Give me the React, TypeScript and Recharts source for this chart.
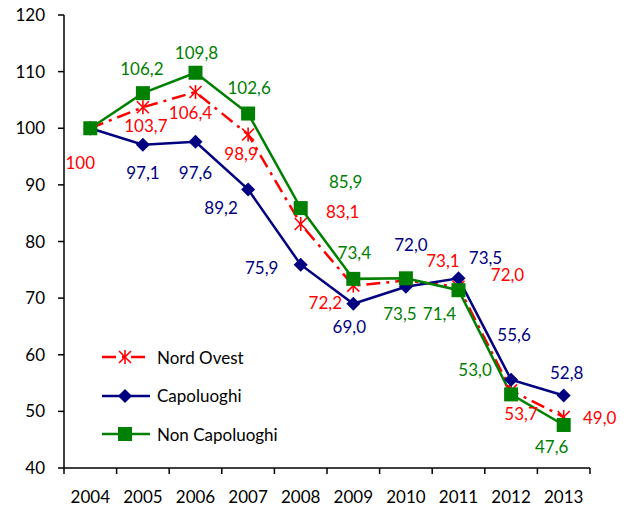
import React from "react";
import { LineChart, Line, XAxis, YAxis, Legend, LabelList } from "recharts";

const years = ["2004", "2005", "2006", "2007", "2008", "2009", "2010", "2011", "2012", "2013"];
const nordOvest = [100, 103.7, 106.4, 98.9, 83.1, 72.2, 73.1, 72.0, 53.7, 49.0];
const capoluoghi = [100, 97.1, 97.6, 89.2, 75.9, 69.0, 72.0, 73.5, 55.6, 52.8];
const nonCapoluoghi = [100, 106.2, 109.8, 102.6, 85.9, 73.4, 73.5, 71.4, 53.0, 47.6];
const yTicks = [40, 50, 60, 70, 80, 90, 100, 110, 120];

// label offsets from each point (dx, dy), null = no label
const nordOvestLabelPos: ([number, number] | null)[] = [
  [-10, 34], [3, 18], [-5, 20], [-7, 19], [42, -12], [-28, 17], [37, -20], [49, -12], [10, 23], [36, 0],
];
const capoluoghiLabelPos: ([number, number] | null)[] = [
  null, [0, 28], [0, 31], [-27, 18], [-39, 3], [-4, 23], [5, -42], [27, -21], [3, -45], [3, -23],
];
const nonCapoluoghiLabelPos: ([number, number] | null)[] = [
  null, [-1, -25], [1, -20], [1, -26], [45, -27], [1, -26], [-6, 35], [-19, 23], [-36, -25], [-12, 22],
];

const data = years.map((year, i) => ({
  year,
  nordOvest: nordOvest[i],
  capoluoghi: capoluoghi[i],
  nonCapoluoghi: nonCapoluoghi[i],
}));

const W = 629;
const H = 511;
const MARGIN = { top: 15, right: 39, bottom: 0, left: 0 };
const Y_W = 64;
const X_H = 43;
const HALF_BAND = (W - MARGIN.right - Y_W) / years.length / 2;

const RED = "#ff0000";
const NAVY = "#000080";
const GREEN = "#008000";
const RED_DASH = "14 6 3 6";

const fmt = (v: number, i: number) => (i === 0 ? String(v) : v.toFixed(1).replace(".", ","));

const makeLabel = (pos: ([number, number] | null)[], color: string) => (props: any) => {
  const { x, y, value, index } = props;
  const p = pos[index];
  if (!p) return null;
  return (
    <text
      x={x + p[0]}
      y={y + p[1]}
      fill={color}
      fontSize={17}
      textAnchor="middle"
      dominantBaseline="central"
    >
      {fmt(value, index)}
    </text>
  );
};

const Star = ({ cx, cy, r = 6, color }: any) => (
  <g stroke={color} strokeWidth={1.6}>
    <line x1={cx - r} y1={cy - r} x2={cx + r} y2={cy + r} />
    <line x1={cx - r} y1={cy + r} x2={cx + r} y2={cy - r} />
    <line x1={cx} y1={cy - r - 1} x2={cx} y2={cy + r + 1} />
  </g>
);

const Diamond = ({ cx, cy, r = 7, color }: any) => (
  <polygon points={`${cx},${cy - r} ${cx + r},${cy} ${cx},${cy + r} ${cx - r},${cy}`} fill={color} />
);

const Square = ({ cx, cy, r = 7, color }: any) => (
  <rect x={cx - r} y={cy - r} width={2 * r} height={2 * r} fill={color} />
);

const legendItems = [
  { name: "Nord Ovest", color: RED, dash: RED_DASH, Marker: Star },
  { name: "Capoluoghi", color: NAVY, dash: undefined, Marker: Diamond },
  { name: "Non Capoluoghi", color: GREEN, dash: undefined, Marker: Square },
];

const renderLegend = () => (
  <div>
    {legendItems.map(({ name, color, dash, Marker }) => (
      <div key={name} style={{ display: "flex", alignItems: "center", height: 38.5 }}>
        <svg width={52} height={20}>
          <line x1={2} y1={10} x2={50} y2={10} stroke={color} strokeWidth={2.5} strokeDasharray={dash} />
          <Marker cx={25} cy={10} color={color} />
        </svg>
        <span style={{ fontSize: 17, color: "#000", marginLeft: 5 }}>{name}</span>
      </div>
    ))}
  </div>
);

const YearTick = (props: any) => {
  const { x, y, payload, index } = props;
  const last = index === years.length - 1;
  return (
    <g>
      <line x1={x - HALF_BAND} y1={y} x2={x - HALF_BAND} y2={y + 6} stroke="#000" strokeWidth={1.5} />
      {last && <line x1={x + HALF_BAND} y1={y} x2={x + HALF_BAND} y2={y + 6} stroke="#000" strokeWidth={1.5} />}
      <text x={x} y={y + 35} textAnchor="middle" fill="#000" fontSize={17}>
        {payload.value}
      </text>
    </g>
  );
};

export default function App() {
  return (
    <div style={{ position: "absolute", left: 0, top: 0, width: W, height: H, background: "#fff", fontFamily: "Lato" }}>
      <LineChart width={W} height={H} data={data} margin={MARGIN}>
        <XAxis
          dataKey="year"
          height={X_H}
          padding={{ left: HALF_BAND, right: HALF_BAND }}
          tick={<YearTick />}
          tickLine={false}
          tickSize={0}
          tickMargin={0}
          interval={0}
          axisLine={{ stroke: "#000", strokeWidth: 1.5 }}
        />
        <XAxis xAxisId="top" orientation="top" dataKey="year" height={0} tick={false} tickLine={false} axisLine={{ stroke: "#9a9a9a", strokeWidth: 1 }} />
        <YAxis
          domain={[40, 120]}
          ticks={yTicks}
          width={Y_W}
          interval={0}
          tickSize={6}
          tickMargin={13}
          tick={{ fill: "#000", fontSize: 17 }}
          tickLine={{ stroke: "#000", strokeWidth: 1.5 }}
          axisLine={{ stroke: "#000", strokeWidth: 1.5 }}
        />
        <YAxis yAxisId="right" orientation="right" domain={[40, 120]} width={0} tick={false} tickLine={false} axisLine={{ stroke: "#9a9a9a", strokeWidth: 1 }} />
        <Legend
          content={renderLegend}
          layout="vertical"
          verticalAlign="middle"
          align="center"
          wrapperStyle={{ left: 100, top: 338, width: 240 }}
        />
        <Line
          dataKey="nordOvest"
          name="Nord Ovest"
          stroke={RED}
          strokeWidth={2.5}
          strokeDasharray={RED_DASH}
          isAnimationActive={false}
          dot={(p: any) => <Star key={p.index} cx={p.cx} cy={p.cy} color={RED} />}
          activeDot={false}
        >
          <LabelList dataKey="nordOvest" content={makeLabel(nordOvestLabelPos, RED)} />
        </Line>
        <Line
          dataKey="capoluoghi"
          name="Capoluoghi"
          stroke={NAVY}
          strokeWidth={2.5}
          isAnimationActive={false}
          dot={(p: any) => <Diamond key={p.index} cx={p.cx} cy={p.cy} color={NAVY} />}
          activeDot={false}
        >
          <LabelList dataKey="capoluoghi" content={makeLabel(capoluoghiLabelPos, NAVY)} />
        </Line>
        <Line
          dataKey="nonCapoluoghi"
          name="Non Capoluoghi"
          stroke={GREEN}
          strokeWidth={2.5}
          isAnimationActive={false}
          dot={(p: any) => <Square key={p.index} cx={p.cx} cy={p.cy} color={GREEN} />}
          activeDot={false}
        >
          <LabelList dataKey="nonCapoluoghi" content={makeLabel(nonCapoluoghiLabelPos, GREEN)} />
        </Line>
      </LineChart>
    </div>
  );
}
